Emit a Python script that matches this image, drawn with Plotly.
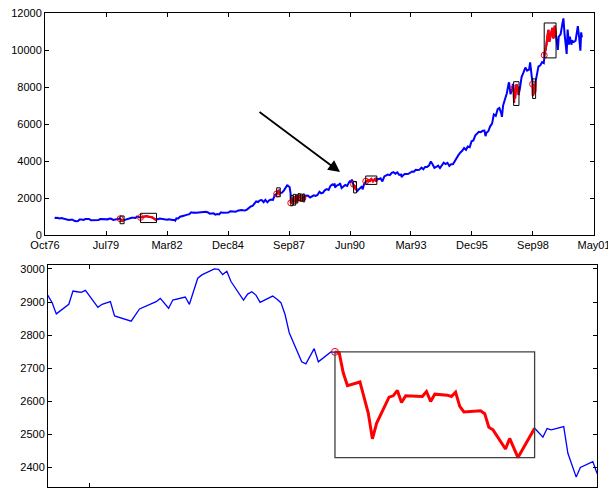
import pandas as pd
import plotly.graph_objects as go

# ---------------- data ----------------
coarse_dates = [
    "1977-03-15", "1977-03-31", "1977-04-29", "1977-05-31", "1977-06-30", "1977-07-29", "1977-08-31",
    "1977-09-30", "1977-10-31", "1977-11-30", "1977-12-30",
    "1978-01-31", "1978-02-28", "1978-03-31", "1978-04-28", "1978-05-31", "1978-06-30", "1978-07-31",
    "1978-08-31", "1978-09-29", "1978-10-31", "1978-11-30", "1978-12-29",
    "1979-01-31", "1979-02-28", "1979-03-30", "1979-04-30", "1979-05-31", "1979-06-29", "1979-07-31",
    "1979-08-31", "1979-09-28", "1979-10-31", "1979-11-30", "1979-12-31",
    "1980-01-31", "1980-02-13", "1980-02-20", "1980-03-05", "1980-03-27", "1980-04-10", "1980-04-25",
    "1980-05-30", "1980-06-30", "1980-07-31", "1980-08-29", "1980-09-30", "1980-10-31", "1980-11-20",
    "1980-12-31",
    "1981-01-20", "1981-02-27", "1981-03-31", "1981-04-27", "1981-05-29", "1981-06-30", "1981-07-31",
    "1981-08-31", "1981-09-25", "1981-10-09", "1981-10-30", "1981-11-30", "1981-12-31",
    "1982-01-29", "1982-02-26", "1982-03-31", "1982-04-30", "1982-05-28", "1982-06-30", "1982-07-30",
    "1982-08-12", "1982-08-31", "1982-09-30", "1982-10-29", "1982-11-30", "1982-12-31",
    "1983-01-31", "1983-02-28", "1983-03-31", "1983-04-29", "1983-05-31", "1983-06-30", "1983-07-29",
    "1983-08-31", "1983-09-30", "1983-10-31", "1983-11-30", "1983-12-30",
    "1984-01-31", "1984-02-29", "1984-03-30", "1984-04-30", "1984-05-31", "1984-06-29", "1984-07-31",
    "1984-08-31", "1984-09-28", "1984-10-31", "1984-11-30", "1984-12-31",
    "1985-01-31", "1985-02-28", "1985-03-29", "1985-04-30", "1985-05-31", "1985-06-28", "1985-07-31",
    "1985-08-30", "1985-09-30", "1985-10-31", "1985-11-29", "1985-12-31",
    "1986-01-31", "1986-02-28", "1986-03-31", "1986-04-30", "1986-05-30", "1986-06-30", "1986-07-31",
    "1986-08-29", "1986-09-30", "1986-10-31", "1986-11-28", "1986-12-31",
    "1987-01-30", "1987-02-27", "1987-03-02", "1987-03-23", "1987-04-06", "1987-04-14", "1987-04-30",
    "1987-05-29", "1987-06-30", "1987-07-31", "1987-08-25", "1987-08-31", "1987-09-30", "1987-10-16",
    "1987-10-19", "1987-10-20", "1987-10-30", "1987-11-10", "1987-11-25", "1987-11-30", "1987-12-04",
    "1987-12-15", "1987-12-31",
    "1988-01-07", "1988-01-08", "1988-01-11", "1988-01-20", "1988-02-01", "1988-02-12", "1988-02-16",
    "1988-02-29", "1988-03-15", "1988-03-23", "1988-03-28", "1988-04-07", "1988-04-14", "1988-04-29",
    "1988-05-02", "1988-05-06", "1988-05-23", "1988-06-03", "1988-06-30", "1988-07-29", "1988-08-31",
    "1988-09-30", "1988-10-31", "1988-11-30", "1988-12-30",
    "1989-01-31", "1989-02-28", "1989-03-31", "1989-04-28", "1989-05-31", "1989-06-30", "1989-07-31",
    "1989-08-31", "1989-09-29", "1989-10-09", "1989-10-13", "1989-10-31", "1989-11-30", "1989-12-29",
    "1990-01-02", "1990-01-30", "1990-02-28", "1990-03-30", "1990-04-30", "1990-05-31",
    "1990-10-31", "1990-11-30", "1990-12-31",
    "1991-01-09", "1991-01-31", "1991-02-28", "1991-03-01", "1991-03-28", "1991-04-17", "1991-04-30",
    "1991-05-31", "1991-06-28", "1991-07-31", "1991-08-19", "1991-08-30", "1991-09-30", "1991-10-31",
    "1991-11-29", "1991-12-31",
    "1992-01-31", "1992-02-28", "1992-03-31", "1992-04-30", "1992-05-29", "1992-06-30", "1992-07-31",
    "1992-08-31", "1992-09-30", "1992-10-09", "1992-10-30", "1992-11-30", "1992-12-31",
    "1993-01-29", "1993-02-26", "1993-03-31", "1993-04-30", "1993-05-28", "1993-06-30", "1993-07-30",
    "1993-08-31", "1993-09-30", "1993-10-29", "1993-11-30", "1993-12-31",
    "1994-01-31", "1994-02-28", "1994-03-31", "1994-04-29", "1994-05-31", "1994-06-30", "1994-07-29",
    "1994-08-31", "1994-09-30", "1994-10-31", "1994-11-30", "1994-12-30",
    "1995-01-31", "1995-02-28", "1995-03-31", "1995-04-28", "1995-05-31", "1995-06-30", "1995-07-31",
    "1995-08-31", "1995-09-29", "1995-10-31", "1995-11-30", "1995-12-29",
    "1996-01-31", "1996-02-29", "1996-03-29", "1996-04-30", "1996-05-31", "1996-06-28", "1996-07-16",
    "1996-07-31", "1996-08-30", "1996-09-30", "1996-10-31", "1996-11-29", "1996-12-31",
    "1997-01-31", "1997-02-28", "1997-03-31", "1997-04-11", "1997-04-30", "1997-05-30", "1997-06-30",
    "1997-07-31", "1997-08-06", "1997-08-29", "1997-09-30", "1997-10-07", "1997-10-20", "1997-10-27",
    "1997-10-28", "1997-11-12", "1997-11-28", "1997-12-05", "1997-12-31",
    "1998-01-09", "1998-01-15", "1998-01-30", "1998-02-27", "1998-03-31", "1998-04-30", "1998-05-29",
    "1998-06-30", "1998-07-17", "1998-07-31", "1998-08-27", "1998-08-31", "1998-09-01", "1998-09-10",
    "1998-09-23", "1998-09-30", "1998-10-08", "1998-10-15", "1998-10-30", "1998-11-30", "1998-12-31",
    "1999-01-29", "1999-02-26", "1999-03-05", "1999-03-16", "1999-03-29", "1999-04-12", "1999-04-23",
    "1999-04-30", "1999-05-13", "1999-05-27", "1999-06-09", "1999-06-30", "1999-07-16", "1999-07-30",
    "1999-08-10", "1999-08-25", "1999-09-15", "1999-09-23", "1999-10-15", "1999-10-29", "1999-11-30",
    "1999-12-31",
    "2000-01-14", "2000-01-31", "2000-02-29", "2000-03-07", "2000-03-23", "2000-03-31", "2000-04-14",
    "2000-04-28", "2000-05-26", "2000-05-31", "2000-06-30", "2000-07-31", "2000-08-31", "2000-09-06",
    "2000-09-29", "2000-10-18", "2000-10-31", "2000-11-13",
]
coarse_values = [
    955, 919, 927, 899, 916, 890, 862, 847, 818, 830, 831,
    770, 742, 757, 837, 841, 819, 862, 877, 866, 793, 799, 805,
    839, 809, 862, 855, 822, 842, 846, 888, 878, 815, 822, 839,
    876, 904, 880, 830, 760, 790, 805, 851, 868, 935, 933, 932, 925, 1000, 964,
    950, 975, 1004, 1024, 992, 977, 953, 882, 824, 860, 853, 889, 875,
    871, 824, 823, 848, 820, 812, 809, 777, 901, 896, 992, 1039, 1047,
    1076, 1113, 1130, 1226, 1200, 1222, 1199, 1216, 1233, 1225, 1276, 1259,
    1221, 1155, 1165, 1171, 1105, 1132, 1115, 1224, 1207, 1207, 1189, 1212,
    1287, 1284, 1267, 1258, 1316, 1336, 1348, 1334, 1329, 1375, 1472, 1547,
    1571, 1710, 1819, 1784, 1877, 1893, 1775, 1898, 1768, 1878, 1914, 1896,
    2158, 2224, 2220, 2370, 2405, 2257, 2286, 2292, 2419, 2572, 2722, 2663, 2596, 2247,
    1738, 1841, 1994, 1879, 1913, 1834, 1766, 1975, 1939,
    2052, 1911, 1945, 1880, 1958, 2014, 2030, 2072, 2090, 2085, 1980, 2062, 1990, 2032,
    2041, 2010, 1941, 2071, 2142, 2129, 2032, 2113, 2149, 2114, 2169,
    2342, 2258, 2294, 2419, 2480, 2440, 2661, 2737, 2693, 2791, 2569, 2645, 2706, 2753,
    2810, 2543, 2627, 2707, 2657, 2877,
    2442, 2560, 2634,
    2470, 2736, 2882, 2910, 2914, 3004, 2888, 3028, 2907, 3025, 2898, 3044, 3017, 3069, 2895, 3169,
    3223, 3268, 3236, 3359, 3397, 3319, 3394, 3257, 3272, 3136, 3226, 3305, 3301,
    3310, 3370, 3436, 3428, 3527, 3516, 3540, 3651, 3555, 3681, 3684, 3754,
    3978, 3832, 3636, 3682, 3758, 3625, 3765, 3913, 3843, 3908, 3739, 3834,
    3844, 4011, 4158, 4321, 4465, 4556, 4709, 4611, 4789, 4756, 5075, 5117,
    5395, 5486, 5588, 5569, 5643, 5655, 5350, 5529, 5616, 5882, 6029, 6522, 6448,
    6813, 6877, 6584, 6391, 7009, 7331, 7673, 8223, 8259, 7622, 7945, 8178, 7921, 7161,
    7498, 7401, 7823, 8149, 7908,
    7580, 7690, 7907, 8546, 8800, 9063, 8900, 8952, 9338, 8883, 8166, 7539, 7827, 7615,
    8154, 7843, 7731, 8299, 8592, 9117, 9181,
    9359, 9307, 9736, 9880, 10006, 10340, 10689, 10789, 11107, 10466, 10690, 10971, 11209, 10655,
    10707, 11326, 10801, 10318, 10019, 10729, 10878, 11497,
    11723, 10941, 10128, 9796, 11119, 10922, 10306, 10734, 10299, 10522, 10448, 10522, 11215, 11310,
    10651, 9975, 10971, 10700,
]

daily90_dates = [
    "1990-06-06", "1990-06-07", "1990-06-08", "1990-06-11", "1990-06-12", "1990-06-13", "1990-06-14",
    "1990-06-15", "1990-06-18", "1990-06-19", "1990-06-21", "1990-06-22", "1990-06-26", "1990-06-28",
    "1990-06-29", "1990-07-02", "1990-07-03", "1990-07-05", "1990-07-06", "1990-07-09", "1990-07-10",
    "1990-07-12", "1990-07-13", "1990-07-16", "1990-07-17", "1990-07-18", "1990-07-19", "1990-07-20",
    "1990-07-23", "1990-07-24", "1990-07-25", "1990-07-26", "1990-07-27", "1990-07-30", "1990-07-31",
    "1990-08-01", "1990-08-02", "1990-08-03", "1990-08-06", "1990-08-07", "1990-08-09", "1990-08-10",
    "1990-08-13", "1990-08-14", "1990-08-15", "1990-08-16", "1990-08-17", "1990-08-20", "1990-08-22",
    "1990-08-23", "1990-08-24", "1990-08-27", "1990-08-28", "1990-08-29", "1990-08-30", "1990-08-31",
    "1990-09-04", "1990-09-05", "1990-09-06", "1990-09-07", "1990-09-10", "1990-09-11", "1990-09-12",
    "1990-09-13", "1990-09-14", "1990-09-18", "1990-09-19", "1990-09-20", "1990-09-21", "1990-09-24",
    "1990-09-25", "1990-09-27", "1990-10-01", "1990-10-03", "1990-10-04", "1990-10-05", "1990-10-08",
    "1990-10-09", "1990-10-11", "1990-10-12", "1990-10-15", "1990-10-16",
]
daily90_values = [
    2919, 2898, 2864, 2893, 2933, 2931, 2929,
    2935, 2884, 2893, 2901, 2858, 2842, 2879,
    2884, 2901, 2911, 2881, 2906, 2915, 2893,
    2972, 2982, 3000, 2999, 2983, 2993, 2962,
    2906, 2924, 2931, 2921, 2899, 2918, 2909,
    2898, 2862, 2807, 2719, 2713, 2759, 2719,
    2749, 2749, 2747, 2685, 2647, 2658, 2564,
    2486, 2533, 2612, 2616, 2632, 2596, 2616,
    2614, 2629, 2599, 2621, 2618, 2614, 2627,
    2584, 2567, 2571, 2562, 2521, 2513, 2455,
    2487, 2429, 2518, 2491, 2517, 2513, 2523,
    2442, 2370, 2399, 2417, 2382,
]

# highlighted windows (start, end)
event_starts = ["1980-02-20", "1981-01-20", "1987-03-02", "1987-10-19", "1987-11-30", "1988-01-11",
                "1988-02-16", "1988-03-28", "1988-05-06", "1990-08-14", "1991-03-01", "1997-10-20",
                "1998-08-27", "1999-03-05"]
event_ends = ["1980-04-25", "1981-10-09", "1987-04-30", "1987-11-25", "1988-01-08", "1988-02-12",
              "1988-03-23", "1988-05-02", "1988-06-03", "1990-10-01", "1991-08-30", "1998-01-15",
              "1998-10-15", "1999-09-15"]

tick_labels = ["Oct76", "Jul79", "Mar82", "Dec84", "Sep87", "Jun90", "Mar93", "Dec95", "Sep98", "May01"]
tick_origin = "1976-10-07"
tick_step_days = 1000
zoom_window = ["1990-06-06", "1990-10-16"]
arrow_tail = ("1986-04-30", 6713)
arrow_head = ("1990-01-03", 3411)

# ---------------- styles ----------------
BLUE = "#0000ff"
RED = "#ff0000"
FONT = dict(family="Liberation Sans, Arial, sans-serif", size=11, color="black")
W, H = 608, 493
BOX_PAD_TOP = 150
BOX_PAD_BOTTOM = 0

# ---------------- build series ----------------
df = pd.DataFrame({
    "date": pd.to_datetime(coarse_dates + daily90_dates),
    "value": coarse_values + daily90_values,
}).sort_values("date").reset_index(drop=True)

origin = pd.Timestamp(tick_origin)
tick_dates = [origin + pd.Timedelta(days=k * tick_step_days) for k in range(len(tick_labels))]
tick_vals = [d.strftime("%Y-%m-%d") for d in tick_dates]
top_range = [tick_dates[0] - pd.Timedelta(hours=6), tick_dates[-1] + pd.Timedelta(hours=6)]

fig = go.Figure()

# top panel main line
fig.add_trace(go.Scatter(x=df["date"], y=df["value"], mode="lines",
                         line=dict(color=BLUE, width=2), xaxis="x", yaxis="y", hoverinfo="skip"))
# bottom panel main line
fig.add_trace(go.Scatter(x=df["date"], y=df["value"], mode="lines",
                         line=dict(color=BLUE, width=1.3), xaxis="x2", yaxis="y2", hoverinfo="skip"))

zs, ze = pd.Timestamp(zoom_window[0]), pd.Timestamp(zoom_window[1])
shapes = []
for s, e in zip(event_starts, event_ends):
    s, e = pd.Timestamp(s), pd.Timestamp(e)
    seg = df[(df["date"] >= s) & (df["date"] <= e)]
    vmin, vmax = seg["value"].min(), seg["value"].max()
    # top
    fig.add_trace(go.Scatter(x=seg["date"], y=seg["value"], mode="lines",
                             line=dict(color=RED, width=2.2), xaxis="x", yaxis="y", hoverinfo="skip"))
    fig.add_trace(go.Scatter(x=seg["date"].iloc[:1], y=seg["value"].iloc[:1], mode="markers",
                             marker=dict(symbol="circle-open", size=6, color=RED, line=dict(width=1)),
                             xaxis="x", yaxis="y", hoverinfo="skip"))
    shapes.append(dict(type="rect", xref="x", yref="y", x0=seg["date"].iloc[0], x1=seg["date"].iloc[-1],
                       y0=vmin - BOX_PAD_TOP, y1=vmax + BOX_PAD_TOP,
                       line=dict(color="black", width=1)))
    # bottom (only windows inside zoom range)
    if e >= zs and s <= ze:
        fig.add_trace(go.Scatter(x=seg["date"], y=seg["value"], mode="lines",
                                 line=dict(color=RED, width=3), xaxis="x2", yaxis="y2", hoverinfo="skip"))
        fig.add_trace(go.Scatter(x=seg["date"].iloc[:1], y=seg["value"].iloc[:1], mode="markers",
                                 marker=dict(symbol="circle-open", size=7, color=RED, line=dict(width=1)),
                                 xaxis="x2", yaxis="y2", hoverinfo="skip"))
        shapes.append(dict(type="rect", xref="x2", yref="y2", x0=seg["date"].iloc[0], x1=seg["date"].iloc[-1],
                           y0=vmin - BOX_PAD_BOTTOM, y1=vmax + BOX_PAD_BOTTOM,
                           line=dict(color="#404040", width=1.3)))

axis_common = dict(showline=True, linecolor="black", linewidth=1, mirror="ticks", ticks="inside",
                   ticklen=4, tickcolor="black", showgrid=False, zeroline=False,
                   tickfont=FONT)

fig.update_layout(
    width=W, height=H, margin=dict(l=0, r=0, t=0, b=0),
    paper_bgcolor="white", plot_bgcolor="white", showlegend=False, template="none",
    font=FONT, shapes=shapes,
    xaxis=dict(axis_common, domain=[45 / W, 594 / W], anchor="y", type="date",
               range=top_range, tickmode="array", tickvals=tick_vals, ticktext=tick_labels,
               ticklabeloverflow="allow"),
    yaxis=dict(axis_common, domain=[(H - 235) / H, (H - 13.3) / H], anchor="x",
               range=[0, 12000], dtick=2000, tick0=0, tickformat="d"),
    xaxis2=dict(axis_common, domain=[48 / W, 597 / W], anchor="y2", type="date",
                range=zoom_window, tickmode="array", tickvals=tick_vals, ticktext=tick_labels,
                ticklabeloverflow="allow"),
    yaxis2=dict(axis_common, domain=[(H - 487) / H, (H - 265) / H], anchor="x2",
                range=[2340, 3012], dtick=100, tick0=0, tickformat="d"),
    annotations=[dict(x=arrow_head[0], y=arrow_head[1], ax=arrow_tail[0], ay=arrow_tail[1],
                      xref="x", yref="y", axref="x", ayref="y", text="", showarrow=True,
                      arrowhead=2, arrowsize=1.3, arrowwidth=1.8, arrowcolor="black")],
)

fig.write_html("out.html")
